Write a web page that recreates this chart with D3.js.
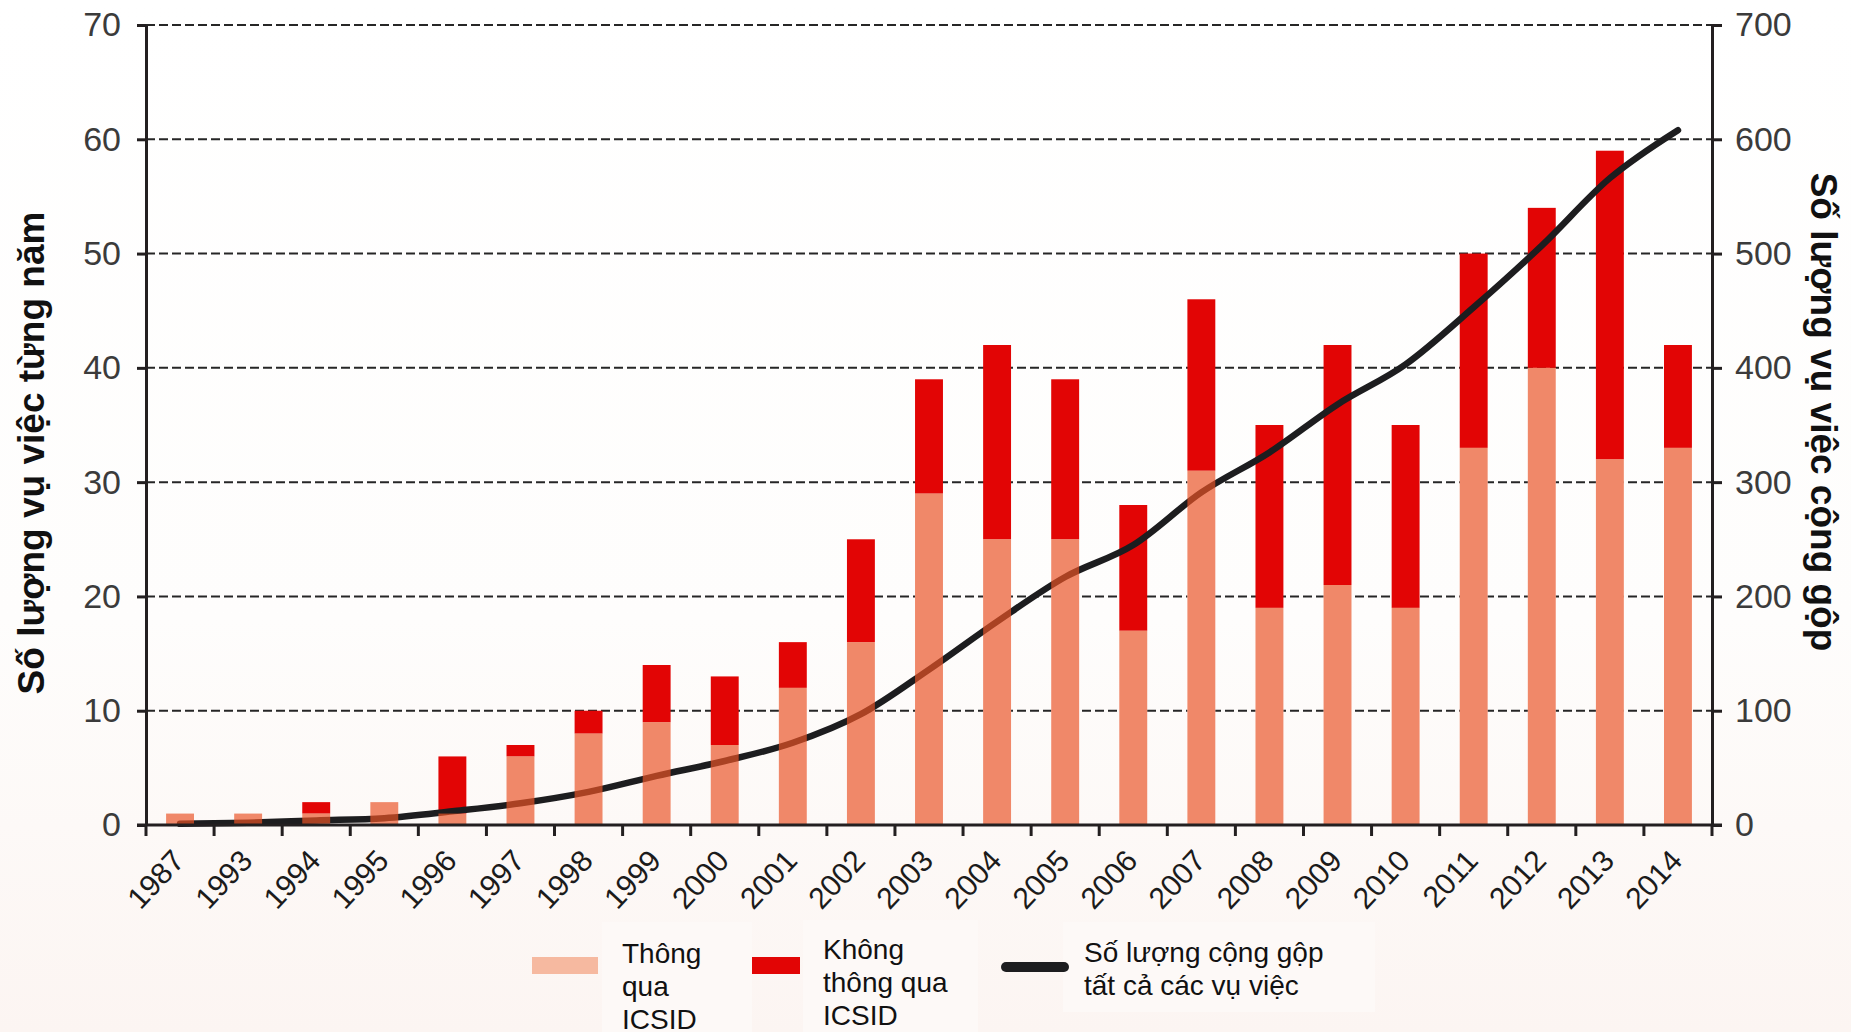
<!DOCTYPE html>
<html>
<head>
<meta charset="utf-8">
<script src="https://cdn.jsdelivr.net/npm/d3@7"></script>
<style>
  html, body { margin: 0; padding: 0; background: #fff; }
  svg { display: block; font-family: "Liberation Sans", Arial, Helvetica, sans-serif; }
</style>
</head>
<body>
<script>
// data
var years = ["1987", "1993", "1994", "1995", "1996", "1997", "1998", "1999", "2000", "2001", "2002",
  "2003", "2004", "2005", "2006", "2007", "2008", "2009", "2010", "2011", "2012", "2013", "2014"];
var viaICSID = [1, 1, 1, 2, 1, 6, 8, 9, 7, 12, 16, 29, 25, 25, 17, 31, 19, 21, 19, 33, 40, 32, 33];
var nonICSID = [0, 0, 1, 0, 5, 1, 2, 5, 6, 4, 9, 10, 17, 14, 11, 15, 16, 21, 16, 17, 14, 27, 9];
var cumulative = [1, 2, 4, 6, 12, 19, 29, 43, 56, 72, 97, 136, 178, 217, 245, 291, 326, 368, 403, 453, 507, 566, 608];
var leftTicks = [0, 10, 20, 30, 40, 50, 60, 70];
var rightTicks = [0, 100, 200, 300, 400, 500, 600, 700];

var width = 1851,
  height = 1032;
var plotLeft = 146, plotRight = 1712, plotTop = 25, plotBottom = 825;

var svg = d3.select("body").append("svg").attr("width", width).attr("height", height);

// soft background like the scanned page
var grad = svg.append("defs").append("linearGradient")
  .attr("id", "bg").attr("x1", 0).attr("y1", 0).attr("x2", 0).attr("y2", 1);
grad.append("stop").attr("offset", "0%").attr("stop-color", "#ffffff");
grad.append("stop").attr("offset", "60%").attr("stop-color", "#fefdfc");
grad.append("stop").attr("offset", "100%").attr("stop-color", "#fcf5f2");
svg.append("rect").attr("width", width).attr("height", height).attr("fill", "url(#bg)");

var rows = years.map(function (y, i) {
  return { year: y, icsid: viaICSID[i], non: nonICSID[i] };
});
var stacked = d3.stack().keys(["icsid", "non"])(rows);

var x = d3.scaleBand().domain(years).range([plotLeft, plotRight]).paddingInner(0.59).paddingOuter(0.295);
var y = d3.scaleLinear().domain([0, 70]).range([plotBottom, plotTop]);
var y2 = d3.scaleLinear().domain([0, 700]).range([plotBottom, plotTop]);

// dashed grid
svg.append("g")
  .selectAll("line")
  .data(leftTicks.filter(function (d) { return d > 0; }))
  .join("line")
  .attr("x1", plotLeft).attr("x2", plotRight)
  .attr("y1", function (d) { return y(d); })
  .attr("y2", function (d) { return y(d); })
  .attr("stroke", "#262626")
  .attr("stroke-width", 2)
  .attr("stroke-dasharray", "9,4");

// white under the light bars so the grid does not show through
svg.append("g")
  .selectAll("rect")
  .data(stacked[0])
  .join("rect")
  .attr("x", function (d) { return x(d.data.year); })
  .attr("width", x.bandwidth())
  .attr("y", function (d) { return y(d[1]); })
  .attr("height", function (d) { return y(d[0]) - y(d[1]); })
  .attr("fill", "#fff");

// red: not through ICSID
svg.append("g")
  .selectAll("rect")
  .data(stacked[1].filter(function (d) { return d[1] > d[0]; }))
  .join("rect")
  .attr("x", function (d) { return x(d.data.year); })
  .attr("width", x.bandwidth())
  .attr("y", function (d) { return y(d[1]); })
  .attr("height", function (d) { return y(d[0]) - y(d[1]); })
  .attr("fill", "#e20505");

// cumulative line
var line = d3.line()
  .x(function (d, i) { return x(years[i]) + x.bandwidth() / 2; })
  .y(function (d) { return y2(d); })
  .curve(d3.curveMonotoneX);

svg.append("path")
  .datum(cumulative)
  .attr("d", line)
  .attr("fill", "none")
  .attr("stroke", "#1d1d1f")
  .attr("stroke-width", 6.5)
  .attr("stroke-linecap", "round");

// light: through ICSID, drawn over the line, see-through
svg.append("g")
  .selectAll("rect")
  .data(stacked[0])
  .join("rect")
  .attr("x", function (d) { return x(d.data.year); })
  .attr("width", x.bandwidth())
  .attr("y", function (d) { return y(d[1]); })
  .attr("height", function (d) { return y(d[0]) - y(d[1]); })
  .attr("fill", "rgb(233,83,38)")
  .attr("fill-opacity", 0.69);

// axes
var axisColor = "#231f20";
var gl = svg.append("g")
  .attr("transform", "translate(" + plotLeft + ",0)")
  .call(d3.axisLeft(y).tickValues(leftTicks).tickSize(9).tickSizeOuter(0).tickPadding(16));
var gr = svg.append("g")
  .attr("transform", "translate(" + plotRight + ",0)")
  .call(d3.axisRight(y2).tickValues(rightTicks).tickSize(10).tickSizeOuter(0).tickPadding(13));

[gl, gr].forEach(function (g) {
  g.select(".domain").attr("stroke", axisColor).attr("stroke-width", 3);
  g.selectAll(".tick line").attr("stroke", axisColor).attr("stroke-width", 3);
  g.selectAll(".tick text")
    .attr("fill", "#3b3b3b")
    .attr("font-size", 34)
    .attr("font-family", "'Liberation Sans', Arial, sans-serif");
});

// bottom axis line and ticks between the bars
var gb = svg.append("g");
gb.append("line")
  .attr("x1", plotLeft - 9).attr("x2", plotRight + 10)
  .attr("y1", plotBottom).attr("y2", plotBottom)
  .attr("stroke", axisColor).attr("stroke-width", 3);

var edges = years.map(function (d) { return x(d) - x.step() * x.paddingInner() / 2; });
edges.push(plotRight);
gb.selectAll("line.edge")
  .data(edges)
  .join("line")
  .attr("class", "edge")
  .attr("x1", function (d) { return d; })
  .attr("x2", function (d) { return d; })
  .attr("y1", plotBottom)
  .attr("y2", plotBottom + 11)
  .attr("stroke", axisColor)
  .attr("stroke-width", 3);

gb.selectAll("text")
  .data(years)
  .join("text")
  .attr("transform", function (d) {
    return "translate(" + (x(d) + x.bandwidth() / 2 + 6) + "," + (plotBottom + 37) + ") rotate(-47)";
  })
  .attr("text-anchor", "end")
  .attr("font-size", 30)
  .attr("fill", "#1b1b1b")
  .text(function (d) { return d; });

// axis titles
svg.append("text")
  .attr("transform", "translate(44," + 453 + ") rotate(-90)")
  .attr("text-anchor", "middle")
  .attr("font-size", 37)
  .attr("font-weight", "bold")
  .attr("fill", "#111")
  .text("Số lượng vụ việc từng năm");

svg.append("text")
  .attr("transform", "translate(1811," + 412 + ") rotate(90)")
  .attr("text-anchor", "middle")
  .attr("font-size", 37)
  .attr("font-weight", "bold")
  .attr("fill", "#111")
  .text("Số lượng vụ việc cộng gộp");

// legend
var legendItems = [
  { lines: ["Thông", "qua", "ICSID"], sx: 532, sw: 66, tx: 622, ty: 963, box: [602, 922, 150, 110] },
  { lines: ["Không", "thông qua", "ICSID"], sx: 752, sw: 48, tx: 823, ty: 959, box: [803, 920, 175, 112] },
  { lines: ["Số lượng cộng gộp", "tất cả các vụ việc"], sx: 1002, sw: 62, tx: 1084, ty: 962, box: [1063, 922, 312, 90] }
];
var lg = svg.append("g");
lg.selectAll("rect.box")
  .data(legendItems)
  .join("rect")
  .attr("class", "box")
  .attr("x", function (d) { return d.box[0]; })
  .attr("y", function (d) { return d.box[1]; })
  .attr("width", function (d) { return d.box[2]; })
  .attr("height", function (d) { return d.box[3]; })
  .attr("fill", "#fdf9f7");

lg.append("rect").attr("x", legendItems[0].sx).attr("y", 957).attr("width", legendItems[0].sw).attr("height", 17).attr("fill", "#f6b9a0");
lg.append("rect").attr("x", legendItems[1].sx).attr("y", 957).attr("width", legendItems[1].sw).attr("height", 17).attr("fill", "#e20505");
lg.append("line")
  .attr("x1", legendItems[2].sx + 4).attr("x2", legendItems[2].sx + legendItems[2].sw)
  .attr("y1", 967).attr("y2", 967)
  .attr("stroke", "#1d1d1f").attr("stroke-width", 10).attr("stroke-linecap", "round");

legendItems.forEach(function (item) {
  var t = lg.append("text")
    .attr("x", item.tx)
    .attr("y", item.ty)
    .attr("font-size", 28)
    .attr("fill", "#111");
  t.selectAll("tspan")
    .data(item.lines)
    .join("tspan")
    .attr("x", item.tx)
    .attr("dy", function (d, i) { return i === 0 ? 0 : 33; })
    .text(function (d) { return d; });
});
</script>
</body>
</html>
